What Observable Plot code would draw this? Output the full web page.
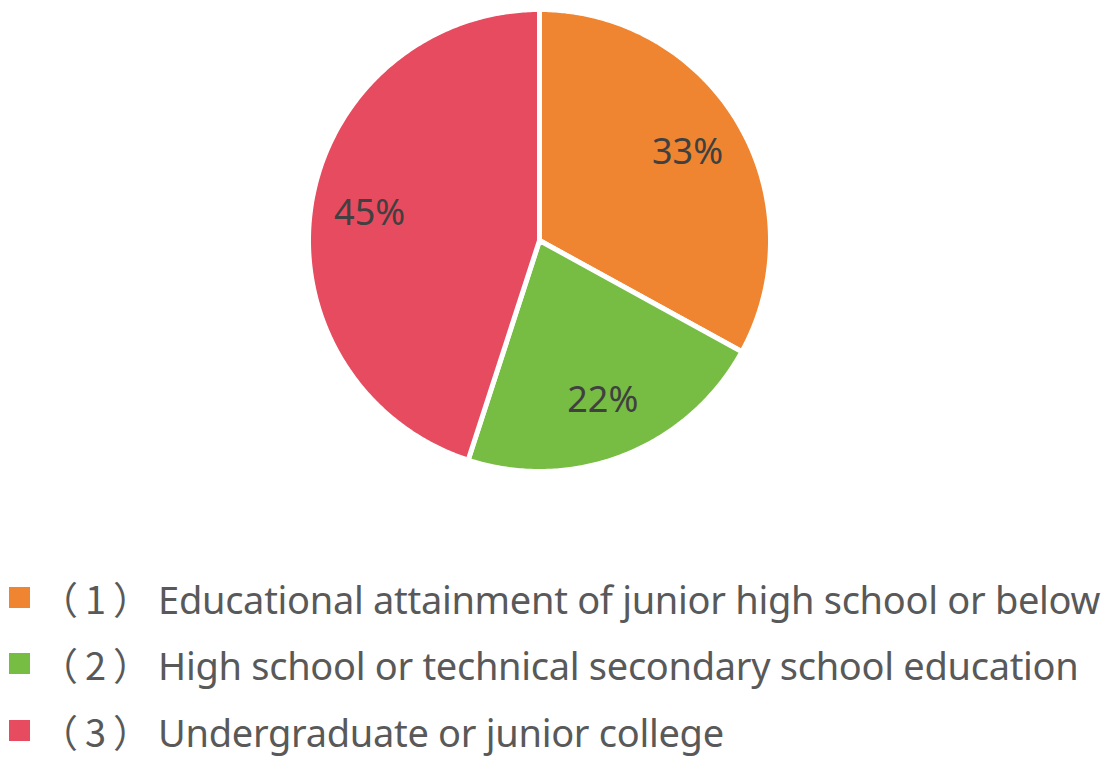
<!DOCTYPE html>
<html>
<head>
<meta charset="utf-8">
<script src="https://cdn.jsdelivr.net/npm/d3@7"></script>
<script src="https://cdn.jsdelivr.net/npm/@observablehq/plot@0.6"></script>
<style>
  html, body { margin: 0; padding: 0; background: #fff; }
  body { width: 1110px; height: 761px; overflow: hidden; font-family: "Noto Sans", sans-serif; }
  #legend { position: relative; }
  .row { display: flex; align-items: center; height: 66.5px; white-space: nowrap; }
  .sw { width: 21px; height: 21px; margin-left: 9px; flex: none; }
  .txt { margin-left: 10px; font-size: 38px; color: #595959; letter-spacing: -0.3px; display: inline-block; }
  .par { font-family: "Noto Sans CJK SC", sans-serif; letter-spacing: 7px; }
</style>
</head>
<body>
<div id="chart"></div>
<div id="legend"></div>
<script>
const categories = [
  "（1）Educational attainment of junior high school or below",
  "（2）High school or technical secondary school education",
  "（3）Undergraduate or junior college"
];
const values = [33, 22, 45];
const labels = ["33%", "22%", "45%"];
const colors = ["#EF8531", "#77BC43", "#E64B5F"];

const W = 1110, H = 564;
const cx = 539, cy = 240, R = 231, labelR = 172;

const pie = d3.pie().sort(null).value(d => d.value)(
  categories.map((c, i) => ({category: c, value: values[i], label: labels[i]}))
);

// polygon vertices of each slice (geometry from the data's angles)
const pts = [];
for (const a of pie) {
  const n = Math.max(2, Math.ceil((a.endAngle - a.startAngle) / 0.01));
  pts.push({category: a.data.category, x: cx, y: cy});
  for (let k = 0; k <= n; k++) {
    const t = a.startAngle + (a.endAngle - a.startAngle) * k / n;
    pts.push({category: a.data.category, x: cx + R * Math.sin(t), y: cy - R * Math.cos(t)});
  }
  pts.push({category: a.data.category, x: cx, y: cy});
}
const labelPts = pie.map(a => {
  const m = (a.startAngle + a.endAngle) / 2;
  return {label: a.data.label, x: cx + labelR * Math.sin(m), y: cy - labelR * Math.cos(m)};
});

const plot = Plot.plot({
  width: W, height: H,
  margin: 0,
  x: {domain: [0, W], range: [0, W], axis: null},
  y: {domain: [0, H], range: [0, H], axis: null},
  color: {domain: categories, range: colors},
  style: {background: "#fff", fontFamily: "Noto Sans, sans-serif"},
  marks: [
    Plot.line(pts, {x: "x", y: "y", z: "category", fill: "category", stroke: "#fff", strokeWidth: 5, strokeLinejoin: "round", curve: "linear"}),
    Plot.text(labelPts, {x: "x", y: "y", text: "label", fill: "#404040", fontSize: 36, textAnchor: "middle", lineAnchor: "middle"})
  ]
});
document.getElementById("chart").appendChild(plot);

const legend = document.getElementById("legend");
categories.forEach((c, i) => {
  const row = document.createElement("div");
  row.className = "row";
  const sw = document.createElement("div");
  sw.className = "sw";
  sw.style.background = colors[i];
  const t = document.createElement("span");
  t.className = "txt";
  const m = c.match(/^（(\d)）(.*)$/);
  const p = document.createElement("span");
  p.className = "par";
  p.textContent = "（" + m[1] + "）";
  t.appendChild(p);
  t.appendChild(document.createTextNode(m[2]));
  row.appendChild(sw);
  row.appendChild(t);
  legend.appendChild(row);
});
</script>
</body>
</html>
